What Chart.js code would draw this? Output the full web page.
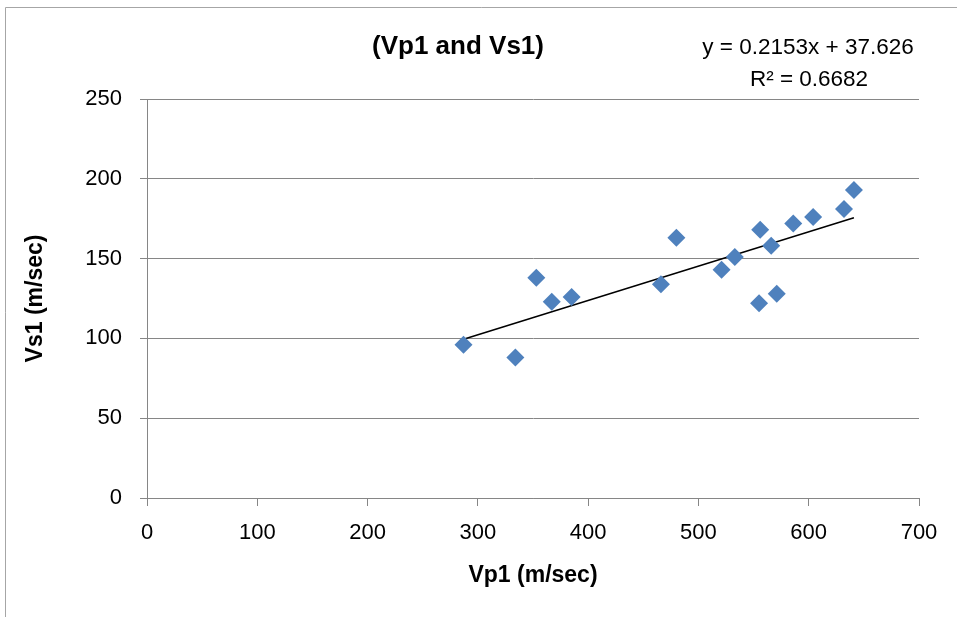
<!DOCTYPE html>
<html>
<head>
<meta charset="utf-8">
<script src="https://cdn.jsdelivr.net/npm/chart.js@4"></script>
<style>
  body { margin: 0; background: #fff; }
  #wrap { width: 957px; height: 617px; }
</style>
</head>
<body>
<div id="wrap"><canvas id="scatterChart" width="957" height="617"></canvas></div>
<script>
const vp1 = [287, 334, 353, 367, 385, 466, 480, 521, 533, 556, 555, 566, 571, 586, 604, 632, 641];
const vs1 = [96, 88, 138, 123, 126, 134, 163, 143, 151, 168, 122, 158, 128, 172, 176, 181, 193];
const xTicks = [0, 100, 200, 300, 400, 500, 600, 700];
const yTicks = [0, 50, 100, 150, 200, 250];
const trendSlope = 0.2153;
const trendIntercept = 37.626;
const trendLabel = ['y = 0.2153x + 37.626', 'R² = 0.6682'];
const chartTitle = '(Vp1 and Vs1)';

const FONT = "'Liberation Sans', Arial, sans-serif";

const points = vp1.map((x, i) => ({ x: x, y: vs1[i] }));
const xMin = Math.min(...vp1);
const xMax = Math.max(...vp1);
const trend = [xMin, xMax].map(x => ({ x: x, y: trendSlope * x + trendIntercept }));

// border, title and trendline equation
const decorations = {
  id: 'decorations',
  beforeDraw(chart) {
    const ctx = chart.ctx;
    ctx.save();
    ctx.strokeStyle = '#a6a6a6';
    ctx.lineWidth = 1;
    ctx.beginPath();
    ctx.moveTo(5.5, 617);
    ctx.lineTo(5.5, 7.5);
    ctx.lineTo(957, 7.5);
    ctx.stroke();
    ctx.restore();
  },
  afterDraw(chart) {
    const ctx = chart.ctx;
    ctx.save();
    ctx.fillStyle = '#000';
    ctx.textBaseline = 'middle';
    ctx.textAlign = 'center';
    ctx.font = "bold 26px " + FONT;
    ctx.fillText(chartTitle, 458, 47);
    ctx.font = "22.5px " + FONT;
    ctx.fillText(trendLabel[0], 808, 48);
    ctx.fillText(trendLabel[1], 809, 80);
    ctx.restore();
  }
};

const ctx = document.getElementById('scatterChart').getContext('2d');
const chart = new Chart(ctx, {
  type: 'scatter',
  data: {
    datasets: [
      {
        label: 'Vs1',
        data: points,
        pointStyle: 'rectRot',
        pointRadius: 9,
        pointHoverRadius: 9,
        backgroundColor: '#4f81bd',
        borderColor: '#4f81bd',
        borderWidth: 0,
      },
      {
        label: 'Linear',
        type: 'line',
        data: trend,
        borderColor: '#000',
        borderWidth: 1.5,
        pointRadius: 0,
        fill: false,
      },
    ],
  },
  options: {
    responsive: false,
    animation: false,
    layout: { padding: { top: 99, right: 38, bottom: 0, left: 0 } },
    plugins: {
      legend: { display: false },
      tooltip: { enabled: false },
    },
    scales: {
      x: {
        type: 'linear',
        min: 0,
        max: 700,
        afterBuildTicks: axis => { axis.ticks = xTicks.map(v => ({ value: v })); },
        afterFit: axis => { axis.height = 119; },
        grid: {
          display: true,
          drawOnChartArea: false,
          drawTicks: true,
          tickLength: 8,
          color: '#868686',
        },
        border: { color: '#868686', width: 1 },
        ticks: {
          color: '#000',
          padding: 14,
          maxRotation: 0,
          font: { family: FONT, size: 22 },
        },
        title: {
          display: true,
          text: 'Vp1 (m/sec)',
          color: '#000',
          font: { family: FONT, size: 23, weight: 'bold' },
          padding: { top: 0, bottom: 28 },
        },
      },
      y: {
        type: 'linear',
        min: 0,
        max: 250,
        afterBuildTicks: axis => { axis.ticks = yTicks.map(v => ({ value: v })); },
        afterFit: axis => { axis.width = 147; },
        grid: {
          display: true,
          drawTicks: true,
          tickLength: 7,
          color: '#868686',
        },
        border: { color: '#868686', width: 1 },
        ticks: {
          color: '#000',
          padding: 18,
          font: { family: FONT, size: 22 },
        },
        title: {
          display: true,
          text: 'Vs1 (m/sec)',
          color: '#000',
          font: { family: FONT, size: 23, weight: 'bold' },
          padding: { top: 22, bottom: 0 },
        },
      },
    },
  },
  plugins: [decorations],
});
</script>
</body>
</html>
